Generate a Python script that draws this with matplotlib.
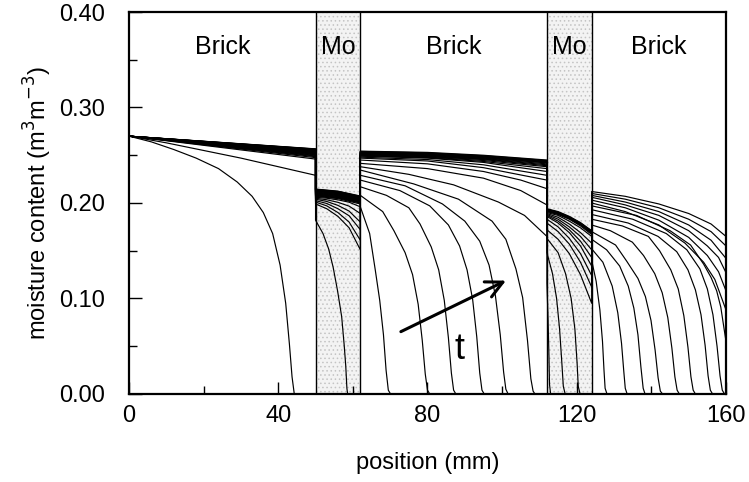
"""Moisture profiles across a brick / mortar / brick / mortar / brick wall."""
import matplotlib
matplotlib.use("Agg")
import matplotlib.pyplot as plt
from matplotlib.ticker import MultipleLocator

plt.rcParams.update({"font.family": ["Liberation Sans", "DejaVu Sans"],
                     "font.size": 17, "hatch.linewidth": 0.6})

# layer boundaries (mm) and labels
layer_edges = [0, 50, 62, 112, 124, 160]
layer_names = ["Brick", "Mo", "Brick", "Mo", "Brick"]
mortar_spans = [(50, 62), (112, 124)]

# moisture profiles (position mm, moisture m3/m3), one list per time step
t01 = [(0, .270), (6, .264), (12, .256), (18, .247), (24, .236), (29, .222), (33, .207), (36, .190),
       (38.5, .168), (40.5, .135), (42, .095), (43, .052), (43.7, .018), (44.3, 0)]
t02 = [(0, .270), (10, .263), (20, .255), (30, .247), (40, .238), (50, .229),
       (50, .182), (52, .168), (53.5, .152), (54.7, .133), (55.9, .108), (57, .081), (57.7, .050),
       (58.1, .029), (58.4, .006), (58.6, 0)]
t03 = [(0, .270), (50, .246), (50, .199), (53, .194), (56, .186), (59, .174), (62, .151),
       (62, .196), (64.5, .168), (66, .130), (67.2, .098), (68.2, .062), (68.9, .025), (69.5, .004), (70.1, 0)]
t04 = [(0, .270), (50, .2475), (50, .201), (53, .197), (56, .190), (59, .180), (62, .161),
       (62, .208), (68, .191), (71, .171), (74, .148), (76, .125), (77.5, .094), (78.6, .056), (79.4, .021),
       (80, .004), (80.6, 0)]
t05 = [(0, .270), (50, .2485), (50, .2025), (53, .1995), (56, .194), (59, .1866), (62, .172),
       (62, .217), (69, .208), (75, .195), (78, .178), (81, .154), (83, .130), (84.5, .098), (85.6, .059),
       (86.4, .022), (87, .004), (87.6, 0)]
t06 = [(0, .270), (50, .2492), (50, .204), (53, .2016), (56, .1975), (59, .1915), (62, .180),
       (62, .224), (72.6, .213), (80.6, .197), (85.6, .177), (88.6, .155), (90.6, .130), (92.1, .099),
       (93.2, .060), (94, .022), (94.6, .004), (95.2, 0)]
t07 = [(0, .270), (50, .2498), (50, .205), (53, .2034), (56, .2007), (59, .1967), (62, .189),
       (62, .229), (74, .218), (84, .199), (90, .181), (94, .160), (96.5, .135), (98.2, .103), (99.5, .062),
       (100.4, .023), (101, .005), (101.6, 0)]
t08 = [(0, .270), (50, .2504), (50, .206), (53, .205), (56, .2033), (59, .2008), (62, .196),
       (62, .2345), (76.3, .220), (88.3, .204), (97.3, .181), (101, .162), (103.7, .131), (105.5, .101),
       (106.8, .056), (107.7, .016), (108.3, .003), (108.8, 0)]
t09 = [(0, .270), (50, .251), (50, .207), (56, .2046), (62, .199),
       (62, .238), (75, .230), (87, .219), (99, .201), (106, .187), (112, .165),
       (112, .116), (112.3, .080), (112.55, .040), (112.7, .010), (113, 0)]
t10 = [(0, .270), (50, .2515), (50, .2075), (56, .2052), (62, .200),
       (62, .2415), (80, .236), (95, .226), (105, .213), (112, .198),
       (112, .148), (113.5, .126), (114.6, .100), (115.4, .068), (116, .033), (116.4, .008), (116.9, 0)]
t11 = [(0, .270), (50, .252), (50, .208), (56, .2057), (62, .2005),
       (62, .245), (80, .241), (95, .233), (105, .224), (112, .215),
       (112, .163), (115, .148), (117, .126), (118.5, .100), (119.5, .068), (120.1, .032), (120.4, .008),
       (120.9, 0)]
t12 = [(0, .270), (50, .2525), (50, .2085), (56, .2062), (62, .201),
       (62, .247), (80, .244), (95, .237), (112, .224),
       (112, .172), (115, .162), (118, .147), (121, .125), (124, .095),
       (124, .140), (125.2, .118), (126.2, .088), (126.9, .055), (127.3, .025), (127.6, .006), (128.1, 0)]
t13 = [(0, .270), (50, .253), (50, .209), (56, .2067), (62, .2015),
       (62, .248), (80, .2455), (95, .240), (112, .229),
       (112, .179), (115, .170), (118, .157), (121, .138), (124, .112),
       (124, .152), (127, .138), (129.5, .113), (131, .085), (132, .053), (132.6, .024), (133, .006), (133.5, 0)]
t14 = [(0, .270), (50, .2535), (50, .2095), (56, .2072), (62, .202),
       (62, .249), (80, .247), (95, .2425), (112, .233),
       (112, .183), (115, .175), (118, .163), (121, .147), (124, .124),
       (124, .162), (128, .151), (131.5, .134), (133.8, .113), (135.3, .090), (136.4, .062), (137.2, .028),
       (137.8, .006), (138.3, 0)]
t15 = [(0, .270), (50, .254), (50, .210), (56, .2077), (62, .2025),
       (62, .2495), (80, .2475), (95, .2435), (112, .236),
       (112, .186), (115, .179), (118, .169), (121, .155), (124, .134),
       (124, .170), (130.4, .156), (133.4, .139), (136.4, .121), (138.4, .102), (139.9, .077), (141, .046),
       (141.8, .017), (142.4, .003), (143, 0)]
t16 = [(0, .270), (50, .2543), (50, .2105), (56, .2082), (62, .203),
       (62, .250), (80, .248), (95, .2445), (112, .238),
       (112, .187), (115, .181), (118, .172), (121, .160), (124, .143),
       (124, .177), (129, .171), (134.9, .159), (137.9, .145), (140.9, .126), (142.9, .106), (144.4, .080),
       (145.5, .048), (146.3, .018), (146.9, .004), (147.5, 0)]
t17 = [(0, .270), (50, .2546), (50, .211), (56, .2087), (62, .2035),
       (62, .2505), (80, .2485), (95, .2455), (112, .239),
       (112, .188), (115, .183), (118, .175), (121, .165), (124, .151),
       (124, .183), (132.2, .176), (139.2, .165), (142.2, .150), (145.2, .130), (147.2, .110), (148.7, .082),
       (149.8, .049), (150.6, .018), (151.2, .004), (151.8, 0)]
t18 = [(0, .270), (50, .2549), (50, .2115), (56, .2092), (62, .204),
       (62, .251), (80, .249), (95, .246), (112, .240),
       (112, .189), (115, .185), (118, .178), (121, .169), (124, .158),
       (124, .188), (133.8, .179), (141.8, .165), (146.8, .149), (149.8, .130), (151.8, .109), (153.3, .083),
       (154.4, .051), (155.2, .019), (155.8, .004), (156.4, 0)]
t19 = [(0, .270), (50, .2552), (50, .212), (56, .2097), (62, .2045),
       (62, .2515), (80, .2495), (95, .2465), (112, .241),
       (112, .190), (115, .187), (118, .181), (121, .174), (124, .165),
       (124, .193), (135, .183), (144, .168), (149.5, .151), (153, .131), (155, .110), (156.5, .083),
       (157.6, .050), (158.4, .019), (159, .004), (159.6, 0)]
t20 = [(0, .270), (50, .2555), (50, .2125), (56, .2102), (62, .205),
       (62, .252), (80, .250), (95, .247), (112, .242),
       (112, .191), (115, .188), (118, .183), (121, .176), (124, .167),
       (124, .197), (136, .187), (145, .171), (150.5, .156), (154, .136), (156, .122), (157.5, .108),
       (158.6, .091), (160, .055)]
t21 = [(0, .270), (50, .2557), (50, .213), (56, .2107), (62, .2055),
       (62, .2525), (80, .2505), (95, .2475), (112, .2425),
       (112, .1915), (115, .1885), (118, .1835), (121, .177), (124, .168),
       (124, .200), (133, .191), (142, .177), (149, .158), (154, .138), (157, .120), (160, .088)]
t22 = [(0, .270), (50, .2559), (50, .2133), (56, .2111), (62, .206),
       (62, .253), (80, .251), (95, .248), (112, .243),
       (112, .192), (115, .189), (118, .184), (121, .1775), (124, .169),
       (124, .203), (133, .195), (142, .182), (150, .164), (155, .145), (158, .128), (160, .108)]
t23 = [(0, .270), (50, .2561), (50, .2136), (56, .2114), (62, .2063),
       (62, .2533), (80, .2515), (95, .2485), (112, .2435),
       (112, .1925), (115, .1895), (118, .1845), (121, .178), (124, .1695),
       (124, .206), (133, .198), (142, .187), (150, .171), (155, .155), (158, .143), (160, .127)]
t24 = [(0, .270), (50, .2563), (50, .214), (56, .2118), (62, .2066),
       (62, .2536), (80, .252), (95, .249), (112, .244),
       (112, .193), (115, .190), (118, .185), (121, .1785), (124, .170),
       (124, .208), (133, .201), (142, .191), (150, .177), (156, .161), (160, .142)]
t25 = [(0, .270), (50, .2565), (50, .2143), (56, .2121), (62, .207),
       (62, .254), (80, .2525), (95, .2495), (112, .2445),
       (112, .1935), (115, .1905), (118, .1855), (121, .179), (124, .1705),
       (124, .210), (133, .204), (142, .195), (150, .183), (156, .170), (160, .155)]
t26 = [(0, .270), (50, .2567), (50, .2146), (56, .2124), (62, .2073),
       (62, .2543), (80, .253), (95, .250), (112, .245),
       (112, .194), (115, .191), (118, .186), (121, .1795), (124, .171),
       (124, .212), (133, .207), (142, .199), (150, .189), (156, .178), (160, .165)]

profiles = [t01, t02, t03, t04, t05, t06, t07, t08, t09, t10, t11, t12, t13,
            t14, t15, t16, t17, t18, t19, t20, t21, t22, t23, t24, t25, t26]

# time arrow (start, end) and its label
arrow_start = (72.2, 0.064)
arrow_end = (101.7, 0.120)
t_label_pos = (88.5, 0.047)

fig = plt.figure(figsize=(7.49, 4.82), dpi=100)
ax = fig.add_axes([0.1722, 0.1826, 0.7971, 0.7925])

for x0, x1 in mortar_spans:
    ax.axvspan(x0, x1, facecolor="#f3f3f3", edgecolor="#c4c4c4", hatch="....", lw=0, zorder=0)
    ax.axvline(x0, color="k", lw=1.0, zorder=2)
    ax.axvline(x1, color="k", lw=1.0, zorder=2)

for prof in profiles:
    xs = [p[0] for p in prof]
    ys = [p[1] for p in prof]
    ax.plot(xs, ys, color="k", lw=0.85, zorder=3)

for name, a, b in zip(layer_names, layer_edges[:-1], layer_edges[1:]):
    ax.text((a + b) / 2, 0.363, name, ha="center", va="center", fontsize=18, zorder=4)

ax.annotate("", xy=arrow_end, xytext=arrow_start,
            arrowprops=dict(arrowstyle="->", lw=2.2, color="k", mutation_scale=30), zorder=5)
ax.text(*t_label_pos, "t", ha="center", va="center", fontsize=26)

ax.set_xlim(0, 160)
ax.set_ylim(0, 0.40)
ax.xaxis.set_major_locator(MultipleLocator(40))
ax.xaxis.set_minor_locator(MultipleLocator(20))
ax.yaxis.set_major_locator(MultipleLocator(0.1))
ax.yaxis.set_minor_locator(MultipleLocator(0.05))
ax.yaxis.set_major_formatter(lambda v, pos: f"{v:.2f}")
ax.tick_params(which="both", direction="in", width=1, labelsize=17)
ax.tick_params(which="major", length=9)
ax.tick_params(which="minor", length=6)
ax.tick_params(axis="y", pad=17)
ax.tick_params(axis="x", pad=8)
for sp in ax.spines.values():
    sp.set_linewidth(1.6)

ax.set_xlabel("position (mm)", fontsize=17, labelpad=18)
ax.set_ylabel("moisture content (m$^3$m$^{-3}$)", fontsize=17)
ax.yaxis.set_label_coords(-0.125, 0.5)

fig.savefig("out.png", dpi=100)
